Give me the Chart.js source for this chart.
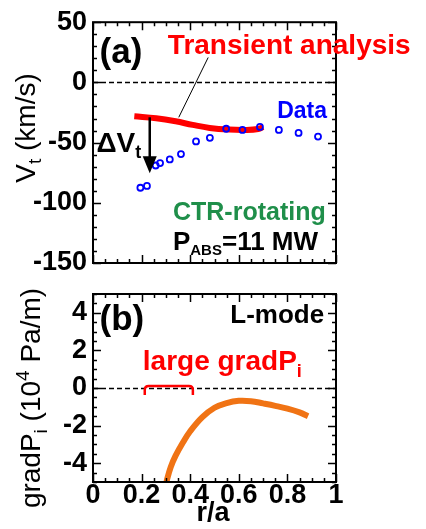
<!DOCTYPE html>
<html>
<head>
<meta charset="utf-8">
<script src="https://cdn.jsdelivr.net/npm/chart.js@4.4.1/dist/chart.umd.min.js"></script>
<style>
  html, body { margin: 0; padding: 0; background: #fff; }
  #wrap { position: relative; width: 426px; height: 529px; overflow: hidden; }
  #wrap canvas { position: absolute; left: 0; top: 0; }
</style>
</head>
<body>
<div id="wrap">
  <canvas id="chart-vt" width="426" height="529"></canvas>
  <canvas id="chart-grad" width="426" height="529"></canvas>
</div>
<script>
// (a) toroidal rotation: measured points
const rData = [0.195, 0.222, 0.258, 0.276, 0.316, 0.362, 0.424, 0.481, 0.548, 0.615, 0.687, 0.765, 0.846, 0.926];
const vData = [-87.5, -86, -69, -67, -64, -59.5, -49, -46, -38.5, -39.5, -37, -39.5, -42, -45];

// (a) transient analysis profile
const rTransient = [0.17, 0.26, 0.34, 0.41, 0.48, 0.56, 0.63, 0.68, 0.70];
const vTransient = [-28.2, -29.8, -32.3, -35.3, -37.8, -39.2, -39.5, -38.7, -37];

// (b) ion pressure gradient
const rGrad = [0.30, 0.305, 0.32, 0.34, 0.37, 0.40, 0.45, 0.50, 0.55, 0.60, 0.65, 0.70, 0.75, 0.80, 0.85, 0.885];
const gradPi = [-5.2, -4.85, -4.2, -3.6, -2.9, -2.3, -1.55, -1.05, -0.8, -0.68, -0.7, -0.82, -0.95, -1.1, -1.3, -1.5];

// tick labels
const xTickVals = [0, 0.2, 0.4, 0.6, 0.8, 1];
const vTickVals = [50, 0, -50, -100, -150];
const gTickVals = [4, 2, 0, -2, -4];

const FONT = "'Liberation Sans', Arial, Helvetica, sans-serif";
Chart.defaults.font.family = FONT;
Chart.defaults.color = '#000';

const pts = (xs, ys) => xs.map((x, i) => ({ x: x, y: ys[i] }));
const fontStr = (size, bold) => (bold ? 'bold ' : '') + size + 'px ' + FONT;

// draws a run of text pieces (with sub/superscripts) starting at x, baseline y
function runsWidth(ctx, runs) {
  let w = 0;
  runs.forEach(r => { ctx.font = fontStr(r.size, r.bold); w += ctx.measureText(r.t).width; });
  return w;
}
function drawRuns(ctx, x, y, runs, color) {
  ctx.textAlign = 'left';
  ctx.textBaseline = 'alphabetic';
  let cx = x;
  runs.forEach(r => {
    ctx.font = fontStr(r.size, r.bold);
    ctx.fillStyle = r.color || color;
    ctx.fillText(r.t, cx, y + (r.dy || 0));
    cx += ctx.measureText(r.t).width;
  });
}
function drawRotated(ctx, cx, cy, runs) {
  ctx.save();
  ctx.translate(cx, cy);
  ctx.rotate(-Math.PI / 2);
  const w = runsWidth(ctx, runs);
  drawRuns(ctx, -w / 2, 0, runs, '#000');
  ctx.restore();
}

// boxed frame with inward ticks on all four sides
function drawFrame(chart, yMinor, yMajor) {
  const ctx = chart.ctx, a = chart.chartArea;
  const xs = chart.scales.x, ys = chart.scales.y;
  ctx.save();
  ctx.strokeStyle = '#000';
  ctx.lineWidth = 1.5;
  ctx.beginPath();
  const nx = Math.round((xs.max - xs.min) / 0.05);
  for (let i = 0; i <= nx; i++) {
    const v = xs.min + i * 0.05;
    const px = Math.round(xs.getPixelForValue(v)) + 0.5;
    const len = (i % 4 === 0) ? 8 : 4;
    ctx.moveTo(px, a.bottom); ctx.lineTo(px, a.bottom - len);
    ctx.moveTo(px, a.top); ctx.lineTo(px, a.top + len);
  }
  const ny = Math.round((ys.max - ys.min) / yMinor);
  for (let i = 0; i <= ny; i++) {
    const v = ys.min + i * yMinor;
    const py = Math.round(ys.getPixelForValue(v)) + 0.5;
    const major = Math.abs(v / yMajor - Math.round(v / yMajor)) < 1e-6;
    const len = major ? 8 : 4;
    ctx.moveTo(a.left, py); ctx.lineTo(a.left + len, py);
    ctx.moveTo(a.right, py); ctx.lineTo(a.right - len, py);
  }
  ctx.stroke();
  ctx.lineWidth = 2;
  ctx.strokeRect(a.left, a.top, a.right - a.left, a.bottom - a.top);
  ctx.restore();
}

function drawZeroLine(chart) {
  const ctx = chart.ctx, a = chart.chartArea;
  const py = Math.round(chart.scales.y.getPixelForValue(0)) + 0.5;
  ctx.save();
  ctx.strokeStyle = '#000';
  ctx.lineWidth = 1.3;
  ctx.setLineDash([5, 3]);
  ctx.beginPath();
  ctx.moveTo(a.left, py);
  ctx.lineTo(a.right, py);
  ctx.stroke();
  ctx.restore();
}

const vtDecor = {
  id: 'vtDecor',
  beforeDatasetsDraw(chart) { drawZeroLine(chart); },
  afterDatasetsDraw(chart) {
    const ctx = chart.ctx;
    const X = v => chart.scales.x.getPixelForValue(v);
    const Y = v => chart.scales.y.getPixelForValue(v);

    // leader line from the label to the transient profile
    ctx.save();
    ctx.strokeStyle = '#000';
    ctx.lineWidth = 1;
    ctx.beginPath();
    ctx.moveTo(X(0.353), Y(-29));
    ctx.lineTo(X(0.474), Y(20.7));
    ctx.stroke();

    // ΔVt arrow
    const ax = X(0.2335);
    ctx.lineWidth = 2.5;
    ctx.beginPath();
    ctx.moveTo(ax, Y(-29));
    ctx.lineTo(ax, Y(-62));
    ctx.stroke();
    ctx.fillStyle = '#000';
    ctx.beginPath();
    ctx.moveTo(ax - 7, Y(-61.3));
    ctx.lineTo(ax + 7, Y(-61.3));
    ctx.lineTo(ax, Y(-75.4));
    ctx.closePath();
    ctx.fill();
    ctx.restore();

    drawFrame(chart, 10, 50);

    drawRuns(ctx, X(0.027), Y(16.1), [{ t: '(a)', size: 35, bold: true }], '#000');
    drawRuns(ctx, X(0.308), Y(24), [{ t: 'Transient analysis', size: 28, bold: true }], '#ff0000');
    drawRuns(ctx, X(0.758), Y(-29.8), [{ t: 'Data', size: 23, bold: true }], '#0000ff');
    drawRuns(ctx, X(0.014), Y(-58), [
      { t: '\u0394V', size: 28, bold: true },
      { t: 't', size: 18, bold: true, dy: 6 }
    ], '#000');
    drawRuns(ctx, X(0.329), Y(-114), [{ t: 'CTR-rotating', size: 25, bold: true }], '#1f8f4a');
    drawRuns(ctx, X(0.329), Y(-139), [
      { t: 'P', size: 26, bold: true },
      { t: 'ABS', size: 15, bold: true, dy: 5 },
      { t: '=11 MW', size: 26, bold: true }
    ], '#000');

    drawRotated(ctx, 35, 128, [
      { t: 'V', size: 28 },
      { t: 't', size: 19, dy: 6 },
      { t: ' (km/s)', size: 28 }
    ]);
  }
};

const gradDecor = {
  id: 'gradDecor',
  beforeDatasetsDraw(chart) { drawZeroLine(chart); },
  afterDatasetsDraw(chart) {
    const ctx = chart.ctx;
    const X = v => chart.scales.x.getPixelForValue(v);
    const Y = v => chart.scales.y.getPixelForValue(v);

    drawFrame(chart, 0.5, 2);

    // bracket marking the steep-gradient region
    const x0 = X(0.213), x1 = X(0.411), yt = Y(0.1), yb = Y(-0.37), rr = 4;
    ctx.save();
    ctx.strokeStyle = '#ff0000';
    ctx.lineWidth = 2.5;
    ctx.beginPath();
    ctx.moveTo(x0, yb);
    ctx.lineTo(x0, yt + rr);
    ctx.quadraticCurveTo(x0, yt, x0 + rr, yt);
    ctx.lineTo(x1 - rr, yt);
    ctx.quadraticCurveTo(x1, yt, x1, yt + rr);
    ctx.lineTo(x1, yb);
    ctx.stroke();
    ctx.restore();

    drawRuns(ctx, X(0.027), Y(3.06), [{ t: '(b)', size: 35, bold: true }], '#000');
    drawRuns(ctx, X(0.565), Y(3.47), [{ t: 'L-mode', size: 26, bold: true }], '#000');
    drawRuns(ctx, X(0.205), Y(0.96), [
      { t: 'large gradP', size: 28, bold: true },
      { t: 'i', size: 18, bold: true, dy: 7 }
    ], '#ff0000');

    // axis titles
    ctx.save();
    ctx.font = fontStr(27, true);
    ctx.fillStyle = '#000';
    ctx.textAlign = 'center';
    ctx.textBaseline = 'alphabetic';
    ctx.fillText('r/a', X(0.494), Y(-7.1));
    ctx.restore();

    drawRotated(ctx, 40, 398, [
      { t: 'gradP', size: 28 },
      { t: 'i', size: 19, dy: 7 },
      { t: ' (10', size: 28 },
      { t: '4', size: 19, dy: -11 },
      { t: ' Pa/m)', size: 28 }
    ]);
  }
};

const tickFont = { size: 27, weight: 'bold', lineHeight: 1.2 };

// (a) rotation profile
new Chart(document.getElementById('chart-vt'), {
  type: 'scatter',
  data: {
    datasets: [{
      label: 'Data',
      data: pts(rData, vData),
      showLine: false,
      pointStyle: 'circle',
      pointRadius: 3,
      pointBorderWidth: 1.8,
      pointBorderColor: '#0000ff',
      pointBackgroundColor: 'rgba(0,0,0,0)',
      order: 0
    }, {
      label: 'Transient analysis',
      data: pts(rTransient, vTransient),
      showLine: true,
      borderColor: '#ff0000',
      borderWidth: 6,
      pointRadius: 0,
      tension: 0.4,
      order: 1
    }]
  },
  options: {
    responsive: false,
    animation: false,
    devicePixelRatio: 1,
    layout: { padding: { top: 22, right: 90, bottom: 266, left: 0 } },
    plugins: { legend: { display: false }, tooltip: { enabled: false } },
    scales: {
      x: { type: 'linear', min: 0, max: 1, display: false },
      y: {
        type: 'linear', min: -150, max: 50,
        afterBuildTicks: s => { s.ticks = vTickVals.map(v => ({ value: v })); },
        afterFit: s => { s.width = 93; },
        grid: { display: false, drawTicks: false },
        border: { display: false },
        ticks: { font: tickFont, color: '#000', padding: 6 }
      }
    }
  },
  plugins: [vtDecor]
});

// (b) pressure gradient profile
new Chart(document.getElementById('chart-grad'), {
  type: 'scatter',
  data: {
    datasets: [{
      label: 'gradPi',
      data: pts(rGrad, gradPi),
      showLine: true,
      borderColor: '#f07314',
      borderWidth: 6,
      pointRadius: 0,
      tension: 0.4
    }]
  },
  options: {
    responsive: false,
    animation: false,
    devicePixelRatio: 1,
    layout: { padding: { top: 294, right: 90, bottom: 0, left: 0 } },
    plugins: { legend: { display: false }, tooltip: { enabled: false } },
    scales: {
      x: {
        type: 'linear', min: 0, max: 1,
        afterBuildTicks: s => { s.ticks = xTickVals.map(v => ({ value: v })); },
        afterFit: s => { s.height = 47; },
        grid: { display: false, drawTicks: false },
        border: { display: false },
        ticks: { font: tickFont, color: '#000', padding: -3, maxRotation: 0, callback: v => String(v) }
      },
      y: {
        type: 'linear', min: -5, max: 5,
        afterBuildTicks: s => { s.ticks = gTickVals.map(v => ({ value: v })); },
        afterFit: s => { s.width = 93; },
        grid: { display: false, drawTicks: false },
        border: { display: false },
        ticks: { font: tickFont, color: '#000', padding: 6 }
      }
    }
  },
  plugins: [gradDecor]
});
</script>
</body>
</html>
